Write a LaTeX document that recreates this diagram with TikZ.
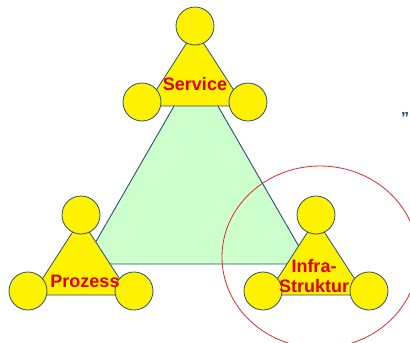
\documentclass[tikz,border=0pt]{standalone}
\usepackage{fontspec}
\setmainfont{Liberation Sans}
\usetikzlibrary{shapes.geometric}
\definecolor{edgeblue}{HTML}{2B4F72}
\definecolor{mint}{HTML}{CCFFCC}
\definecolor{labelred}{HTML}{E00000}
\definecolor{ringred}{HTML}{E02A2A}
\definecolor{quoteblue}{HTML}{1F3F7F}
\tikzset{
  base/.style={fill=mint, draw=edgeblue, line width=0.9pt, line join=round},
  trifill/.style={fill=yellow, draw=edgeblue, line width=0.8pt, line join=round},
  ball/.style={circle, fill=yellow, draw=edgeblue, line width=0.8pt, minimum size=38pt, inner sep=0pt},
  lbl/.style={text=labelred, font=\bfseries\fontsize{18}{20}\selectfont, align=center, inner sep=0pt},
  ring/.style={ellipse, draw=ringred, line width=0.8pt, minimum width=196pt, minimum height=182pt, inner sep=0pt},
  cluster/.pic={
    \path[trifill] (0,4) -- (-49,80) -- (49,80) -- cycle;
    \node[ball] (-top) at (0,0) {};
    \node[ball] (-left) at (-53,76) {};
    \node[ball] (-right) at (53,76) {};
  }
}
\begin{document}
\begin{tikzpicture}[x=1pt,y=-1pt]
\useasboundingbox (0,0) rectangle (410,343);
\clip (0,0) rectangle (410,343);
% central green triangle
\coordinate (apex) at (196,68);
\coordinate (bl) at (83,264);
\coordinate (br) at (309,264);
\path[base] (apex) -- (bl) -- (br) -- cycle;
% highlight ring around the infrastructure cluster
\node[ring] (ring) at (320,257) {};
% the three clusters
\pic (svc) at (195,26) {cluster};
\pic (proc) at (81,215) {cluster};
\pic (infra) at (316,215) {cluster};
% labels
\node[lbl] (svclbl) at (195,84) {Service};
\node[lbl] (proclbl) at (85,281) {Prozess};
\node[lbl] (infralbl) at (314,276) {Infra-\\Struktur};
% stray opening quote at the right edge
\node[text=quoteblue, font=\bfseries\fontsize{16}{16}\selectfont, anchor=base west, inner sep=0pt] (quote) at (401,114) {„};
\end{tikzpicture}
\end{document}
